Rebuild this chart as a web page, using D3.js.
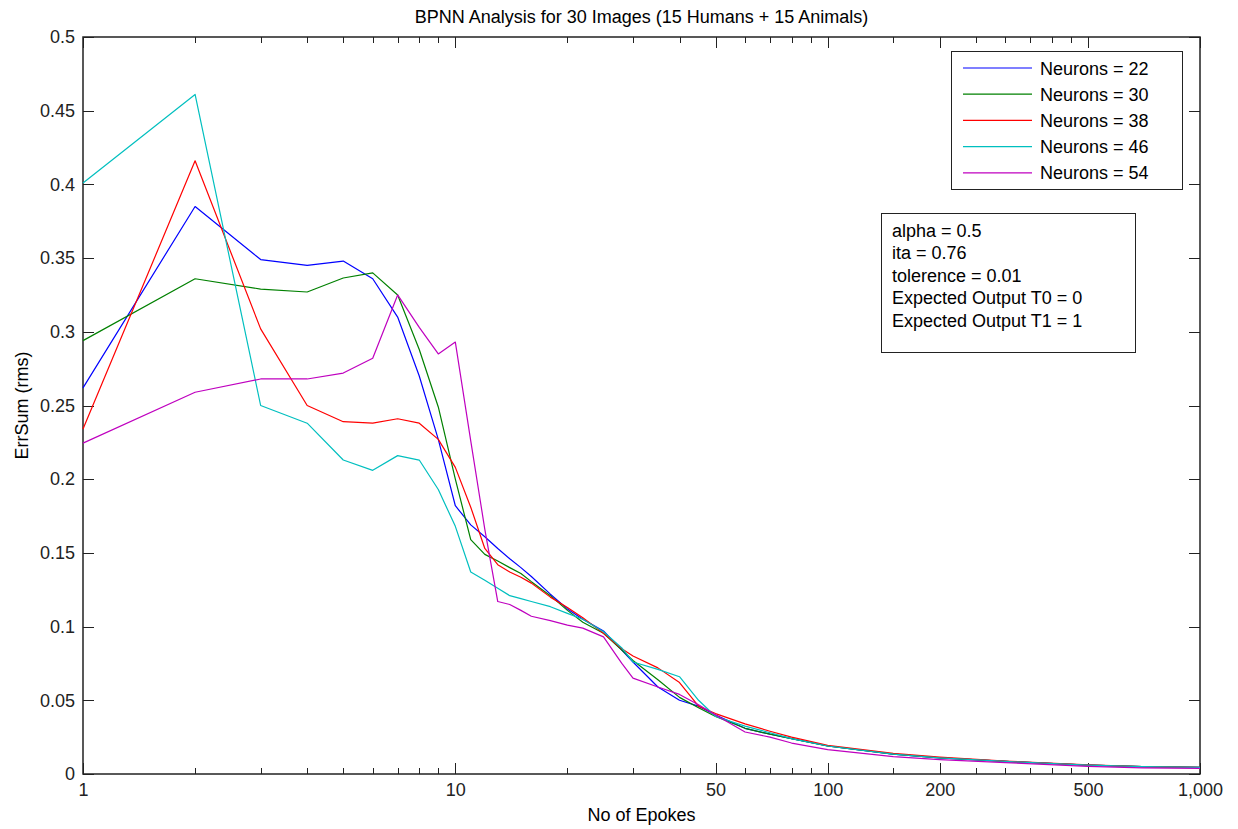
<!doctype html>
<html lang="en">

<head>
    <meta charset="utf-8">
    <script src="https://d3js.org/d3.v7.min.js"></script>
    <title>BPNN Analysis</title>
    <style>
        body { margin: 0; background: #fff; }
        svg text { font-family: Arial, "Liberation Sans", sans-serif; }
    </style>
</head>

<body>
    <svg id="svg1"></svg>

    <script>
        // values at these epochs
        let epochs = [1, 2, 3, 4, 5, 6, 7, 8, 9, 10, 11, 12, 13, 14, 15, 16, 18, 20, 22, 25, 28, 30,
                      35, 40, 45, 50, 60, 70, 80, 100, 150, 200, 300, 500, 700, 1000];

        let neurons22 = [0.262, 0.385, 0.349, 0.345, 0.348, 0.336, 0.310, 0.270, 0.227, 0.182, 0.169, 0.161,
                         0.153, 0.146, 0.140, 0.134, 0.122, 0.112, 0.105, 0.097, 0.084, 0.076,
                         0.059, 0.050, 0.046, 0.040, 0.031, 0.027, 0.024, 0.019, 0.0135, 0.011, 0.0085, 0.006, 0.005, 0.0045];
        let neurons30 = [0.294, 0.336, 0.329, 0.327, 0.3365, 0.340, 0.325, 0.288, 0.249, 0.200, 0.159, 0.149,
                         0.1445, 0.140, 0.136, 0.1305, 0.121, 0.111, 0.103, 0.0955, 0.084, 0.077,
                         0.064, 0.052, 0.045, 0.039, 0.031, 0.027, 0.024, 0.019, 0.0135, 0.011, 0.0085, 0.006, 0.005, 0.0045];
        let neurons38 = [0.234, 0.416, 0.302, 0.250, 0.239, 0.238, 0.241, 0.238, 0.227, 0.208, 0.181, 0.153,
                         0.142, 0.137, 0.1335, 0.1295, 0.120, 0.113, 0.106, 0.0955, 0.085, 0.080,
                         0.072, 0.062, 0.046, 0.041, 0.034, 0.029, 0.025, 0.0195, 0.014, 0.0115, 0.0088, 0.0062, 0.005, 0.0045];
        let neurons46 = [0.401, 0.461, 0.250, 0.238, 0.213, 0.206, 0.216, 0.213, 0.193, 0.168, 0.137, 0.1315,
                         0.126, 0.121, 0.119, 0.117, 0.1135, 0.109, 0.105, 0.0965, 0.0855, 0.076,
                         0.071, 0.066, 0.050, 0.039, 0.0325, 0.028, 0.024, 0.019, 0.0135, 0.011, 0.0085, 0.006, 0.005, 0.0045];
        let neurons54 = [0.2245, 0.259, 0.268, 0.268, 0.272, 0.282, 0.325, 0.303, 0.285, 0.293, 0.226, 0.166,
                         0.117, 0.115, 0.111, 0.107, 0.104, 0.101, 0.099, 0.093, 0.075, 0.065,
                         0.059, 0.054, 0.047, 0.040, 0.0285, 0.025, 0.021, 0.0165, 0.0118, 0.0097, 0.0077, 0.0052, 0.0042, 0.0038];

        let seriesNames = ["Neurons = 22", "Neurons = 30", "Neurons = 38", "Neurons = 46", "Neurons = 54"];
        let seriesColors = ["#0000ff", "#008000", "#ff0000", "#00bfbf", "#bf00bf"];

        let xMajorTicks = [1, 10, 50, 100, 200, 500, 1000];
        let xMinorTicks = [2, 3, 4, 5, 6, 7, 8, 9, 20, 30, 40, 60, 70, 80, 90, 150, 250, 300, 350, 400, 450];
        let yTicks = [0, 0.05, 0.1, 0.15, 0.2, 0.25, 0.3, 0.35, 0.4, 0.45, 0.5];

        let notes = ["alpha = 0.5", "ita = 0.76", "tolerence = 0.01", "Expected Output T0 = 0", "Expected Output T1 = 1"];

        let svg, xScale, yScale;
        let width = 1238, height = 829;
        let margin = { top: 37, right: 38, bottom: 55, left: 83 };

        function initialize() {
            svg = d3.select("#svg1")
                .attr("width", width)
                .attr("height", height);

            svg.append("rect")
                .attr("width", width).attr("height", height)
                .attr("fill", "#fff");

            xScale = d3.scaleLog()
                .domain([1, 1000])
                .range([margin.left, width - margin.right]);

            yScale = d3.scaleLinear()
                .domain([0, 0.5])
                .range([height - margin.bottom, margin.top]);
        }

        function drawAxes() {
            let x0 = margin.left, x1 = width - margin.right;
            let y0 = height - margin.bottom, y1 = margin.top;
            let clean = g => g.select(".domain").remove();
            let style = g => g.attr("font-size", 18).attr("font-family", null).attr("color", "#222")
                .selectAll("line").attr("shape-rendering", "crispEdges");

            // bottom
            svg.append("g")
                .attr("transform", `translate(0,${y0})`)
                .call(d3.axisBottom(xScale).tickValues(xMajorTicks).tickFormat(d3.format(","))
                    .tickSizeInner(-11).tickSizeOuter(0).tickPadding(9))
                .call(clean).call(style);
            svg.append("g")
                .attr("transform", `translate(0,${y0})`)
                .call(d3.axisBottom(xScale).tickValues(xMinorTicks).tickFormat("").tickSizeInner(-6).tickSizeOuter(0))
                .call(clean).call(style);

            // top
            svg.append("g")
                .attr("transform", `translate(0,${y1})`)
                .call(d3.axisTop(xScale).tickValues(xMajorTicks).tickFormat("").tickSizeInner(-11).tickSizeOuter(0))
                .call(clean).call(style);
            svg.append("g")
                .attr("transform", `translate(0,${y1})`)
                .call(d3.axisTop(xScale).tickValues(xMinorTicks).tickFormat("").tickSizeInner(-6).tickSizeOuter(0))
                .call(clean).call(style);

            // left and right
            svg.append("g")
                .attr("transform", `translate(${x0},0)`)
                .call(d3.axisLeft(yScale).tickValues(yTicks).tickFormat(d => String(+d.toFixed(2)))
                    .tickSizeInner(-11).tickSizeOuter(0).tickPadding(8))
                .call(clean).call(style);
            svg.append("g")
                .attr("transform", `translate(${x1},0)`)
                .call(d3.axisRight(yScale).tickValues(yTicks).tickFormat("").tickSizeInner(-11).tickSizeOuter(0))
                .call(clean).call(style);

            svg.append("rect")
                .attr("x", x0).attr("y", y1)
                .attr("width", x1 - x0).attr("height", y0 - y1)
                .attr("fill", "none")
                .attr("stroke", "#222")
                .attr("stroke-width", 1.5);

            svg.append("text")
                .attr("x", (x0 + x1) / 2).attr("y", 23)
                .attr("text-anchor", "middle")
                .attr("font-size", 18)
                .text("BPNN Analysis for 30 Images (15 Humans + 15 Animals)");

            svg.append("text")
                .attr("x", (x0 + x1) / 2).attr("y", 821)
                .attr("text-anchor", "middle")
                .attr("font-size", 18)
                .text("No of Epokes");

            svg.append("text")
                .attr("transform", `translate(28,${(y0 + y1) / 2}) rotate(-90)`)
                .attr("text-anchor", "middle")
                .attr("font-size", 18)
                .text("ErrSum (rms)");
        }

        function update() {
            let series = [neurons22, neurons30, neurons38, neurons46, neurons54];

            let line = d3.line()
                .x((d, i) => xScale(epochs[i]))
                .y(d => yScale(d));

            svg.append("g")
                .selectAll("path")
                .data(series)
                .join("path")
                .attr("d", d => line(d))
                .attr("fill", "none")
                .attr("stroke", (d, i) => seriesColors[i])
                .attr("stroke-width", 1.2)
                .attr("stroke-linejoin", "round");

            // legend
            let legend = svg.append("g");
            legend.append("rect")
                .attr("x", 951).attr("y", 51)
                .attr("width", 231).attr("height", 138)
                .attr("fill", "#fff").attr("stroke", "#222")
                .attr("shape-rendering", "crispEdges");

            let rows = legend.selectAll("g.row")
                .data(seriesNames)
                .join("g")
                .attr("class", "row")
                .attr("transform", (d, i) => `translate(0,${68 + i * 26.2})`);
            rows.append("line")
                .attr("x1", 963).attr("x2", 1032)
                .attr("stroke", (d, i) => seriesColors[i])
                .attr("stroke-width", 1.2);
            rows.append("text")
                .attr("x", 1040).attr("y", 6.5)
                .attr("font-size", 18)
                .text(d => d);

            // parameter box
            let note = svg.append("g");
            note.append("rect")
                .attr("x", 881).attr("y", 213)
                .attr("width", 254).attr("height", 139)
                .attr("fill", "#fff").attr("stroke", "#222")
                .attr("shape-rendering", "crispEdges");
            note.selectAll("text")
                .data(notes)
                .join("text")
                .attr("x", 892)
                .attr("y", (d, i) => 236.5 + i * 22.5)
                .attr("font-size", 18)
                .text(d => d);
        }

        initialize();
        drawAxes();
        update();
    </script>

</body>

</html>
